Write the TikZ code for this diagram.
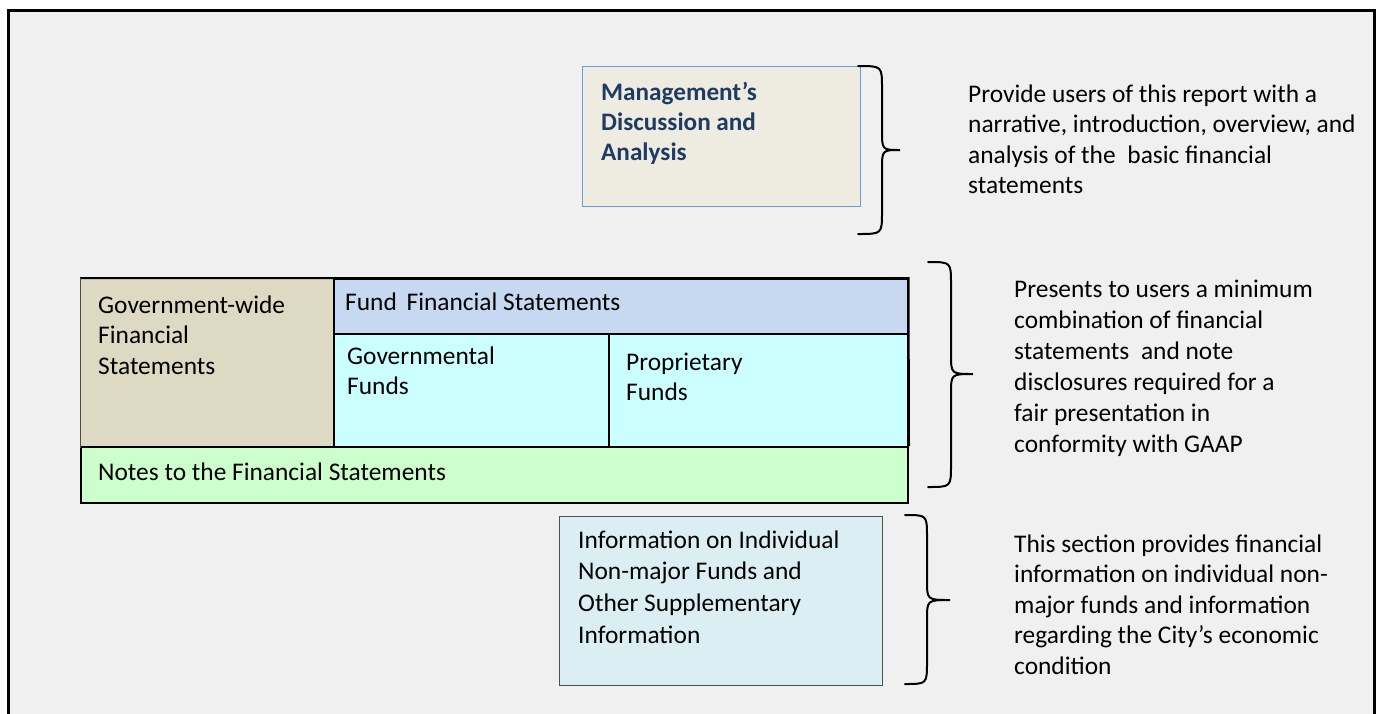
\documentclass[tikz,border=0pt]{standalone}
\usepackage{fontspec}
\setmainfont{Carlito}
\definecolor{pagebg}{HTML}{F0F0F0}
\definecolor{mdfill}{HTML}{EEECE1}
\definecolor{mdline}{HTML}{6A9BE0}
\definecolor{mdtext}{HTML}{1F3B64}
\definecolor{gwfill}{HTML}{DDD9C3}
\definecolor{fundhead}{HTML}{C6D9F1}
\definecolor{fundfill}{HTML}{CCFFFF}
\definecolor{notefill}{HTML}{CCFFCC}
\definecolor{infofill}{HTML}{DBEEF4}
\definecolor{infoline}{HTML}{505050}
% right-hand curly brace: x start, x spine, x tip, y top, y middle, y bottom
\newcommand{\sidebrace}[6]{%
  \draw[bracestyle] (#1,#4) .. controls (#2,#4) .. (#2,#4+22)
    -- (#2,#5-20) .. controls (#2,#5) .. (#3,#5)
    .. controls (#2,#5) .. (#2,#5+20)
    -- (#2,#6-22) .. controls (#2,#6) .. (#1,#6);}
\begin{document}
\begin{tikzpicture}[x=1pt,y=-1pt,
  txt/.style={anchor=base west,inner sep=0pt,font=\fontsize{25.4}{30}\selectfont,text=black},
  boldtxt/.style={txt,font=\fontsize{25.2}{30}\selectfont\bfseries,text=mdtext},
  cell/.style={anchor=north west,inner sep=0pt,draw=black,line width=1.5pt},
  bracestyle/.style={draw=black,line width=2pt,line cap=round}]
\useasboundingbox (0,0) rectangle (1377,713);
\clip (0,0) rectangle (1377,713);
\fill[white] (0,0) rectangle (1377,713);
% page frame
\draw[line width=3pt,fill=pagebg] (8.5,10.5) rectangle (1374.5,730);

% Management's discussion and analysis
\node[anchor=north west,inner sep=0pt,fill=mdfill,draw=mdline,line width=1pt,
      minimum width=278pt,minimum height=140pt] (mda) at (582,66) {};
\foreach \t [count=\i] in {Management’s,Discussion and,Analysis}
  \node[boldtxt] (mda\i) at (601,{100+30*(\i-1)}) {\t};

% basic financial statements table
\node[cell,fill=gwfill,draw=none,minimum width=253pt,minimum height=168pt] (gw) at (80,278) {};
\node[cell,fill=fundhead,minimum width=574pt,minimum height=55pt] (fh) at (333,278) {};
\node[cell,fill=fundfill,minimum width=275pt,minimum height=113pt] (gf) at (333,333) {};
\node[cell,fill=fundfill,minimum width=299pt,minimum height=113pt] (pf) at (608,333) {};
\node[cell,fill=notefill,line width=2pt,minimum width=827pt,minimum height=56pt] (nt) at (80,446) {};
\draw[line width=2pt] (gw.north west) -- (fh.north east) -- (nt.north east);
\draw[line width=1pt,draw=black!70] (gw.north west) -- (gw.south west);

\foreach \t [count=\i] in {Government-wide,Financial,Statements}
  \node[txt] (gwt\i) at (98,{313+30.5*(\i-1)}) {\t};
\node[txt] (fht) at (345,310) {Fund\hspace{4pt} Financial Statements};
\foreach \t [count=\i] in {Governmental,Funds}
  \node[txt] (gft\i) at (347,{364+30.5*(\i-1)}) {\t};
\foreach \t [count=\i] in {Proprietary,Funds}
  \node[txt] (pft\i) at (626,{370+30.5*(\i-1)}) {\t};
\node[txt] (ntt) at (98,480) {Notes to the Financial Statements};

% supplementary information
\node[anchor=north west,inner sep=0pt,fill=infofill,draw=infoline,line width=1pt,
      minimum width=323pt,minimum height=169pt] (info) at (559,516) {};
\foreach \t [count=\i] in {Information on Individual,Non-major Funds and,Other Supplementary,Information}
  \node[txt] (inf\i) at (578,{548+31.7*(\i-1)}) {\t};

% braces
\sidebrace{858}{882}{900}{66}{150}{234}
\sidebrace{928}{951}{973}{262}{374}{487}
\sidebrace{905}{927}{950}{515}{600}{684}

% descriptions
\foreach \t [count=\i] in {Provide users of this report with a,{narrative, introduction, overview, and},analysis of the\hspace{6pt} basic financial,statements}
  \node[txt] (d1\i) at (968,{102+30.5*(\i-1)}) {\t};
\foreach \t [count=\i] in {Presents to users a minimum,combination of financial,statements\hspace{6pt} and note,disclosures required for a,fair presentation in,conformity with GAAP}
  \node[txt] (d2\i) at (1014,{297+31*(\i-1)}) {\t};
\foreach \t [count=\i] in {This section provides financial,information on individual non-,major funds and information,regarding the City’s economic,condition}
  \node[txt] (d3\i) at (1014,{552+30.5*(\i-1)}) {\t};
\end{tikzpicture}
\end{document}
